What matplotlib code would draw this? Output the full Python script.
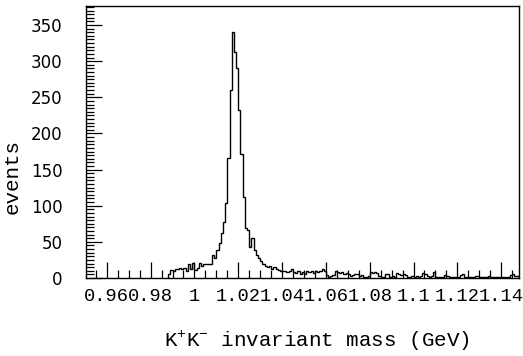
import matplotlib.pyplot as plt
import numpy as np
from matplotlib.ticker import MultipleLocator

# histogram of K+K- invariant mass, 1 MeV bins starting at 0.988 GeV
first_edge = 0.988
bin_width = 0.001
counts = [
    5, 11, 10, 12, 13, 14, 12, 14, 9, 19,
    13, 21, 11, 14, 21, 17, 20, 20, 19, 20,
    32, 27, 39, 48, 62, 77, 104, 166, 260, 340,
    312, 290, 233, 172, 112, 69, 66, 43, 55, 39,
    32, 28, 24, 20, 17, 15, 16, 13, 15, 12,
    11, 10, 9, 10, 8, 9, 12, 8, 7, 9,
    6, 8, 6, 9, 8, 10, 7, 9, 8, 9,
    12, 9, 4, 2, 3, 4, 10, 8, 7, 8,
    5, 7, 6, 3, 4, 6, 5, 3, 4, 2,
    2, 3, 8, 7, 8, 7, 3, 1, 2, 5,
    6, 2, 3, 2, 7, 5, 4, 5, 4, 2,
    2, 3, 2, 3, 2, 3, 7, 5, 3, 2,
    3, 8, 2, 2, 1, 2, 4, 3, 2, 2,
    1, 2, 2, 4, 5, 2, 2, 1, 2, 2,
    3, 3, 2, 1, 2, 2, 3, 2, 1, 1,
    2, 1, 1, 2, 2, 2, 4, 5, 3, 3,
]

xticks = [0.96, 0.98, 1.00, 1.02, 1.04, 1.06, 1.08, 1.10, 1.12, 1.14]
xtick_labels = ['0.96', '0.98', '1', '1.02', '1.04', '1.06', '1.08', '1.1', '1.12', '1.14']
yticks = [0, 50, 100, 150, 200, 250, 300, 350]

plt.rcParams['mathtext.fontset'] = 'custom'
plt.rcParams['mathtext.rm'] = 'Liberation Mono'
plt.rcParams['mathtext.it'] = 'Liberation Mono'

fig = plt.figure(figsize=(5.23, 3.56), dpi=100)
ax = fig.add_axes([86 / 523, 78 / 356, 432.7 / 523, 272.3 / 356])

edges = first_edge + bin_width * np.arange(len(counts) + 1)
ax.stairs(counts, edges, color='black', lw=1.0, baseline=0)

ax.set_xlim(0.9505, 1.148)
ax.set_ylim(0, 376.7)

ax.set_xticks(xticks, xtick_labels)
ax.set_yticks(yticks)
ax.xaxis.set_minor_locator(MultipleLocator(0.005))
ax.yaxis.set_minor_locator(MultipleLocator(5))

ax.tick_params(which='both', direction='in', top=False, right=False, width=0.9, color='black')
ax.tick_params(which='major', length=11.5)
ax.tick_params(which='minor', length=5.8)
ax.tick_params(axis='x', which='major', pad=7, labelsize=13.5)
ax.tick_params(axis='y', which='major', pad=17, labelsize=12)
for lab in ax.get_xticklabels():
    lab.set_fontfamily('Liberation Mono')

for s in ax.spines.values():
    s.set_linewidth(1.0)
    s.set_color('black')

ax.set_xlabel(r'K$^{+}$K$^{-}$ invariant mass (GeV)', fontfamily='Liberation Mono', fontsize=15)
ax.xaxis.label.set_va('baseline')
ax.xaxis.set_label_coords(0.534, -0.253)

ax.set_ylabel('events', fontfamily='Liberation Mono', fontsize=15)
ax.yaxis.label.set_va('center')
ax.yaxis.set_label_coords(-0.170, 0.371)

fig.savefig('out.png', dpi=100)
